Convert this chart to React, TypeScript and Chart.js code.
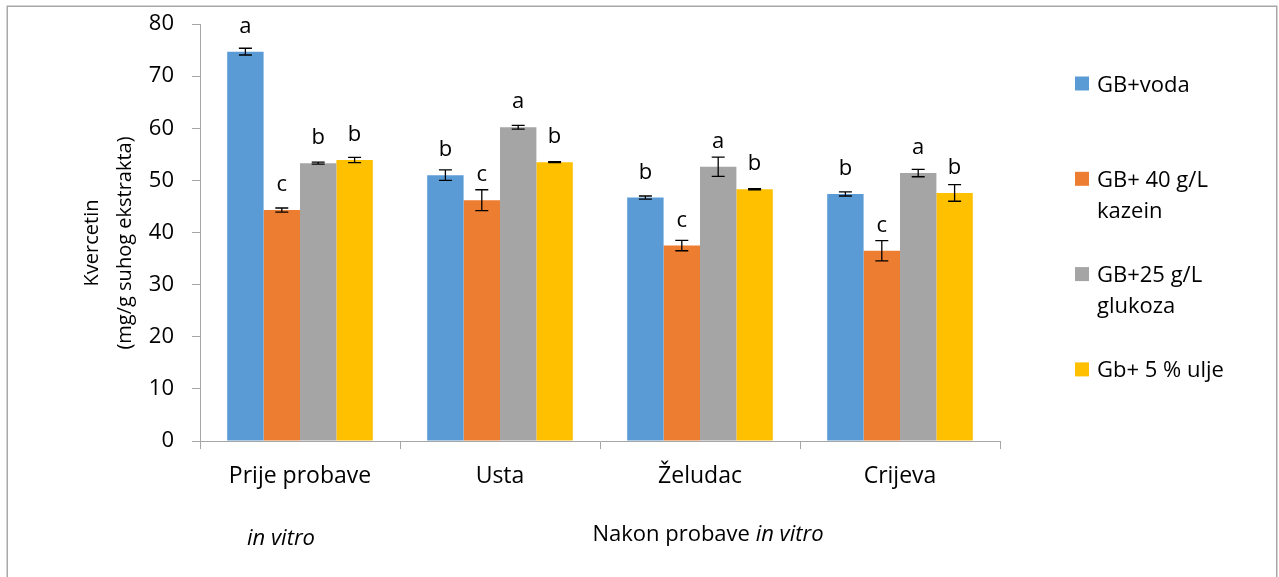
import React, { useEffect, useRef } from "react";
import { Chart, registerables } from "chart.js";

Chart.register(...registerables);

const categories = ["Prije probave", "Usta", "Želudac", "Crijeva"];
const seriesLabels = ["GB+voda", "GB+ 40 g/L\nkazein", "GB+25 g/L\nglukoza", "Gb+ 5 % ulje"];
const seriesColors = ["#5B9BD5", "#ED7D31", "#A5A5A5", "#FFC000"];

const vodaValues = [74.7, 51.0, 46.7, 47.4];
const kazeinValues = [44.3, 46.2, 37.5, 36.5];
const glukozaValues = [53.3, 60.2, 52.6, 51.4];
const uljeValues = [53.9, 53.5, 48.3, 47.6];

const vodaErrors = [0.65, 1.0, 0.3, 0.4];
const kazeinErrors = [0.4, 2.0, 1.0, 1.95];
const glukozaErrors = [0.2, 0.35, 1.85, 0.7];
const uljeErrors = [0.5, 0.1, 0.1, 1.6];

const vodaLetters = ["a", "b", "b", "b"];
const kazeinLetters = ["c", "c", "c", "c"];
const glukozaLetters = ["b", "a", "a", "a"];
const uljeLetters = ["b", "b", "b", "b"];

const yMin = 0;
const yMax = 80;
const yStep = 10;

const yTitleLines = ["Kvercetin", "(mg/g suhog ekstrakta)"];
const subLabelLeft = "in vitro";
const subLabelRightPlain = "Nakon probave ";
const subLabelRightItalic = "in vitro";

const FONT = "'Open Sans', sans-serif";
const AXIS_COLOR = "#a6a6a6";

const allValues = [vodaValues, kazeinValues, glukozaValues, uljeValues];
const allErrors = [vodaErrors, kazeinErrors, glukozaErrors, uljeErrors];
const allLetters = [vodaLetters, kazeinLetters, glukozaLetters, uljeLetters];

const decorPlugin = {
  id: "decor",
  beforeDraw(chart: any) {
    const { ctx, width, height } = chart;
    ctx.save();
    ctx.fillStyle = "#ffffff";
    ctx.fillRect(0, 0, width, height);
    ctx.strokeStyle = "#a8a8a8";
    ctx.lineWidth = 1.5;
    ctx.strokeRect(7.25, 6.25, 1269.5, 700);
    ctx.restore();
  },
  afterDatasetsDraw(chart: any) {
    const { ctx, chartArea } = chart;
    const yScale = chart.scales.y;
    ctx.save();
    chart.data.datasets.forEach((ds: any, di: number) => {
      const meta = chart.getDatasetMeta(di);
      meta.data.forEach((el: any, i: number) => {
        const v = ds.data[i];
        const e = ds.errors[i];
        const yTop = yScale.getPixelForValue(v + e);
        const yBot = yScale.getPixelForValue(v - e);
        const x = el.x;
        ctx.strokeStyle = "#000000";
        ctx.lineWidth = 1.3;
        ctx.beginPath();
        ctx.moveTo(x, yTop);
        ctx.lineTo(x, yBot);
        ctx.moveTo(x - 6.5, yTop);
        ctx.lineTo(x + 6.5, yTop);
        ctx.moveTo(x - 6.5, yBot);
        ctx.lineTo(x + 6.5, yBot);
        ctx.stroke();
        ctx.fillStyle = "#000000";
        ctx.font = `22px ${FONT}`;
        ctx.textAlign = "center";
        ctx.textBaseline = "alphabetic";
        const by = Math.max(el.y - 19, chartArea.top);
        ctx.fillText(ds.letters[i], x, by);
      });
    });
    ctx.restore();
  },
  afterDraw(chart: any) {
    const { ctx } = chart;
    ctx.save();
    ctx.fillStyle = "#000000";
    ctx.font = `20px ${FONT}`;
    ctx.textAlign = "center";
    ctx.textBaseline = "middle";
    yTitleLines.forEach((line, i) => {
      ctx.save();
      ctx.translate(92 + i * 33, 243);
      ctx.rotate(-Math.PI / 2);
      ctx.fillText(line, 0, 0);
      ctx.restore();
    });
    ctx.textBaseline = "alphabetic";
    ctx.font = `italic 22px ${FONT}`;
    ctx.textAlign = "center";
    ctx.fillText(subLabelLeft, 281, 545);
    ctx.font = `22px ${FONT}`;
    const w1 = ctx.measureText(subLabelRightPlain).width;
    ctx.font = `italic 22px ${FONT}`;
    const w2 = ctx.measureText(subLabelRightItalic).width;
    const startX = 708 - (w1 + w2) / 2;
    ctx.textAlign = "left";
    ctx.font = `22px ${FONT}`;
    ctx.fillText(subLabelRightPlain, startX, 541);
    ctx.font = `italic 22px ${FONT}`;
    ctx.fillText(subLabelRightItalic, startX + w1, 541);
    chart.data.datasets.forEach((ds: any, i: number) => {
      const cy = 83.5 + i * 95.3;
      ctx.fillStyle = ds.backgroundColor;
      ctx.fillRect(1075, cy - 7, 14, 14);
      ctx.fillStyle = "#000000";
      ctx.font = `22px ${FONT}`;
      ctx.textAlign = "left";
      ctx.textBaseline = "alphabetic";
      String(ds.label)
        .split("\n")
        .forEach((line: string, li: number) => {
          ctx.fillText(line, 1097, cy + 8 + li * 31);
        });
    });
    ctx.restore();
  },
};

export default function App() {
  const canvasRef = useRef<HTMLCanvasElement | null>(null);

  useEffect(() => {
    const canvas = canvasRef.current;
    if (!canvas) return;
    const chart = new Chart(canvas, {
      type: "bar",
      data: {
        labels: categories,
        datasets: seriesLabels.map((label, i) => ({
          label,
          data: allValues[i],
          errors: allErrors[i],
          letters: allLetters[i],
          backgroundColor: seriesColors[i],
          borderWidth: 0,
          categoryPercentage: 0.728,
          barPercentage: 1.0,
        })) as any,
      },
      options: {
        responsive: false,
        animation: false,
        devicePixelRatio: 1,
        layout: { padding: { left: 0, right: 279, top: 24, bottom: 0 } },
        plugins: {
          legend: { display: false },
          tooltip: { enabled: false },
        },
        scales: {
          x: {
            ticks: { padding: 14, font: { family: FONT, size: 23 }, color: "#000000" },
            grid: { offset: true, drawOnChartArea: false, drawTicks: true, tickLength: 8, color: AXIS_COLOR },
            border: { display: true, color: AXIS_COLOR, width: 1 },
            afterFit: (s: any) => {
              s.height = 136;
              s.paddingLeft = 0;
              s.paddingRight = 0;
            },
          },
          y: {
            min: yMin,
            max: yMax,
            ticks: { stepSize: yStep, padding: 18, font: { family: FONT, size: 22 }, color: "#000000" },
            grid: { drawOnChartArea: false, drawTicks: true, tickLength: 8, color: AXIS_COLOR },
            border: { display: true, color: AXIS_COLOR, width: 1 },
            afterFit: (s: any) => {
              s.width = 200;
              s.paddingTop = 0;
              s.paddingBottom = 0;
            },
          },
        },
      } as any,
      plugins: [decorPlugin],
    });
    return () => chart.destroy();
  }, []);

  return (
    <div style={{ position: "absolute", left: 0, top: 0, width: 1279, height: 577 }}>
      <canvas ref={canvasRef} width={1279} height={577} style={{ display: "block" }} />
    </div>
  );
}
